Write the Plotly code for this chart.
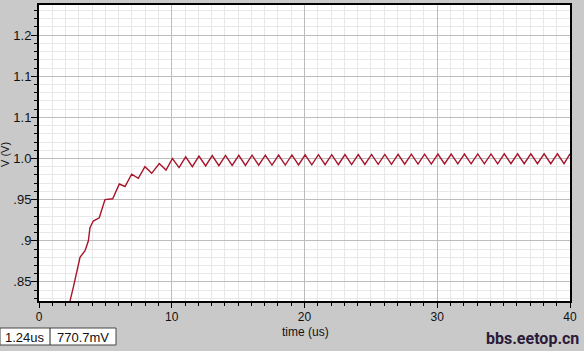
import plotly.graph_objects as go

# ---- data ----
time_us = [1.8, 2.2, 2.34, 2.58, 2.84, 3.09, 3.47, 3.72, 3.84, 4.09, 4.54, 4.72, 4.97, 5.55,
           6.05, 6.48, 6.98, 7.48, 7.98, 8.49, 9.06, 9.57, 10.05,
           10.55, 11.05, 11.55, 12.05, 12.55, 13.05, 13.55, 14.05, 14.55, 15.05, 15.55, 16.05,
           16.55, 17.05, 17.55, 18.05, 18.55, 19.05, 19.55, 20.05, 20.55, 21.05, 21.55, 22.05,
           22.55, 23.05, 23.55, 24.05, 24.55, 25.05, 25.55, 26.05, 26.55, 27.05, 27.55, 28.05,
           28.55, 29.05, 29.55, 30.05, 30.55, 31.05, 31.55, 32.05, 32.55, 33.05, 33.55, 34.05,
           34.55, 35.05, 35.55, 36.05, 36.55, 37.05, 37.55, 38.05, 38.55, 39.05, 39.55, 40.0]
volts = [0.790, 0.815, 0.827, 0.843, 0.863, 0.880, 0.888, 0.900, 0.916, 0.924, 0.928, 0.937, 0.950, 0.951,
         0.969, 0.966, 0.981, 0.976, 0.990, 0.982, 0.994, 0.986, 1.000,
         0.989, 1.002, 0.990, 1.003, 0.991, 1.0035, 0.9912, 1.0037, 0.9915, 1.0038, 0.9915, 1.004,
         0.9918, 1.004, 0.992, 1.0042, 0.992, 1.0043, 0.9922, 1.0045, 0.9923, 1.0046, 0.9925, 1.0047,
         0.9925, 1.0048, 0.9927, 1.0048, 0.9928, 1.005, 0.993, 1.005, 0.993, 1.0051, 0.9931, 1.0052,
         0.9932, 1.0053, 0.9933, 1.0054, 0.9934, 1.0055, 0.9935, 1.0055, 0.9935, 1.0056, 0.9936, 1.0056,
         0.9936, 1.0057, 0.9937, 1.0057, 0.9937, 1.0057, 0.9937, 1.0057, 0.9937, 1.0057, 0.9937, 1.0055]

y_tickvals = [0.85, 0.90, 0.95, 1.00, 1.05, 1.10, 1.15]
y_ticktext = [".85", ".9", ".95", "1.0", "1.1", "1.1", "1.2"]
x_tickvals = [0, 10, 20, 30, 40]
x_ticktext = ["0", "10", "20", "30", "40"]

W, H = 584, 351
L, R, T, B = 39, 14, 5, 50
pw, ph = W - L - R, H - T - B

def px(x):
    return (x - L) / pw

def py(y):
    return (H - B - y) / ph

FONT = "Liberation Sans, Arial, sans-serif"

fig = go.Figure()
fig.add_trace(go.Scatter(x=time_us, y=volts, mode="lines",
                         line=dict(color="#a8142a", width=1.4), showlegend=False,
                         hoverinfo="skip"))

fig.update_layout(
    width=W, height=H,
    margin=dict(l=L, r=R, t=T, b=B, autoexpand=False),
    paper_bgcolor="#c9c9c9", plot_bgcolor="#ffffff",
    font=dict(family=FONT, size=13, color="#111111"),
    showlegend=False,
)

fig.update_xaxes(
    range=[0, 40], tickmode="array", tickvals=x_tickvals, ticktext=x_ticktext,
    showline=True, linecolor="#000000", linewidth=2, mirror=True,
    ticks="outside", ticklen=5, tickcolor="#000000", tickwidth=1,
    ticklabelstandoff=-1,
    showgrid=True, gridcolor="#bdbdbd", gridwidth=1, zeroline=False,
    minor=dict(tickmode="linear", tick0=0, dtick=1, ticks="outside", ticklen=3,
               tickcolor="#000000", showgrid=True, gridcolor="#e8e8e8", gridwidth=1),
    tickfont=dict(family=FONT, size=12, color="#111111"),
)
fig.update_yaxes(
    range=[0.8268, 1.1866], tickmode="array", tickvals=y_tickvals, ticktext=y_ticktext,
    showline=True, linecolor="#000000", linewidth=2, mirror=True,
    ticks="outside", ticklen=6, tickcolor="#000000", tickwidth=1,
    ticklabelstandoff=-3,
    showgrid=True, gridcolor="#bdbdbd", gridwidth=1, zeroline=False,
    minor=dict(tickmode="linear", tick0=0.8, dtick=0.01, ticks="outside", ticklen=3,
               tickcolor="#000000", showgrid=True, gridcolor="#e8e8e8", gridwidth=1),
    tickfont=dict(family=FONT, size=13, color="#111111"),
)

# axis titles
fig.add_annotation(text="time (us)", xref="paper", yref="paper", x=px(305), y=py(332),
                   showarrow=False, xanchor="center", yanchor="middle",
                   font=dict(family=FONT, size=12, color="#111111"))
fig.add_annotation(text="V (V)", xref="paper", yref="paper", x=px(5), y=py(155),
                   showarrow=False, textangle=-90, xanchor="center", yanchor="middle",
                   font=dict(family=FONT, size=11, color="#111111"))

# cursor readout box
fig.add_shape(type="rect", xref="paper", yref="paper", x0=px(0), x1=px(116), y0=py(345), y1=py(328),
              line=dict(color="#444444", width=1), fillcolor="#ffffff", layer="above")
fig.add_shape(type="line", xref="paper", yref="paper", x0=px(50), x1=px(50), y0=py(345), y1=py(328),
              line=dict(color="#222222", width=1), layer="above")
fig.add_annotation(text="1.24us", xref="paper", yref="paper", x=px(25), y=py(337),
                   showarrow=False, xanchor="center", yanchor="middle",
                   font=dict(family=FONT, size=13, color="#111111"))
fig.add_annotation(text="770.7mV", xref="paper", yref="paper", x=px(83), y=py(337),
                   showarrow=False, xanchor="center", yanchor="middle",
                   font=dict(family=FONT, size=13, color="#111111"))

# watermark
fig.add_annotation(text="<b>bbs.eetop.cn</b>", xref="paper", yref="paper", x=px(581), y=py(338),
                   showarrow=False, xanchor="right", yanchor="middle",
                   font=dict(family="Liberation Sans Narrow, Roboto, sans-serif",
                             size=16, color="#2b1a3a"))

fig.write_html("out.html")
